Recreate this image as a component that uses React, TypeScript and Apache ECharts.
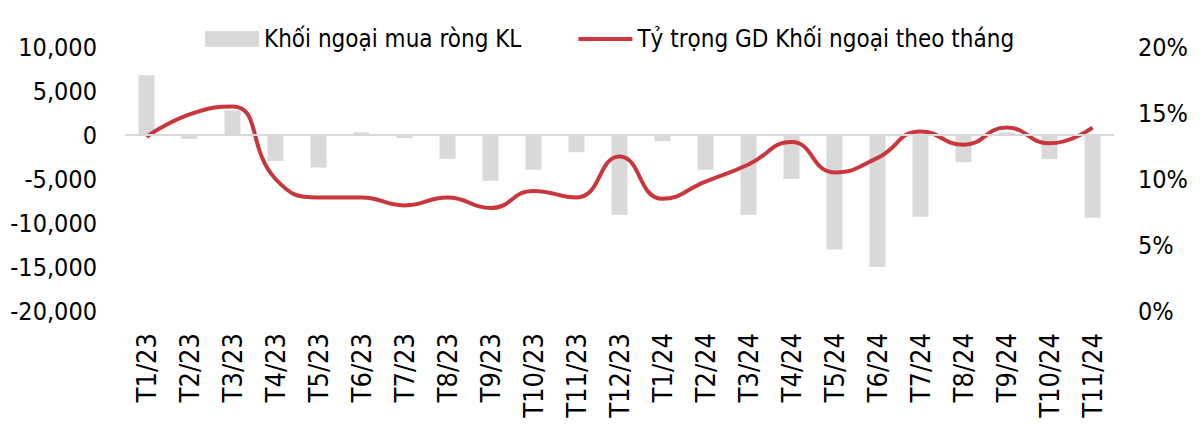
import { useEffect, useRef } from "react";
import * as echarts from "echarts";

const months = [
  "T1/23", "T2/23", "T3/23", "T4/23", "T5/23", "T6/23", "T7/23", "T8/23",
  "T9/23", "T10/23", "T11/23", "T12/23", "T1/24", "T2/24", "T3/24", "T4/24",
  "T5/24", "T6/24", "T7/24", "T8/24", "T9/24", "T10/24", "T11/24",
];

// Khối ngoại mua ròng KL (left axis)
const netBuy = [
  6800, -450, 2800, -2950, -3700, 300, -350, -2700, -5200, -3950, -1950,
  -9050, -700, -3950, -9050, -5000, -13000, -15000, -9300, -3100, 300,
  -2750, -9400,
];

// Tỷ trọng GD Khối ngoại theo tháng, % (right axis)
const share = [
  13.2, 14.9, 15.5, 10.0, 8.6, 8.6, 8.0, 8.6, 7.8, 9.1, 8.6, 11.7, 8.5, 9.8,
  11.1, 12.8, 10.5, 11.6, 13.6, 12.6, 13.9, 12.7, 13.9,
];

const FONT = '"Liberation Sans Narrow", "Arial Narrow", "DejaVu Sans Condensed", sans-serif';
const GRAY = "#d9d9d9";
const RED = "#c9373c";

export default function App() {
  const chartRef = useRef<HTMLDivElement>(null);

  useEffect(() => {
    if (!chartRef.current) return;
    const chart = echarts.init(chartRef.current, undefined, { renderer: "svg" });

    chart.setOption({
      animation: false,
      textStyle: { fontFamily: FONT },
      legend: {
        top: 22,
        left: 200,
        itemWidth: 54,
        itemHeight: 16,
        itemGap: 57,
        textStyle: { fontFamily: FONT, fontSize: 24, color: "#000" },
        data: [
          { name: "Khối ngoại mua ròng KL", icon: "rect" },
          {
            name: "Tỷ trọng GD Khối ngoại theo tháng",
            icon: "path://M0,0H54V4H0Z",
            itemStyle: { color: RED },
          },
        ],
      },
      grid: { left: 125, right: 86, top: 47, height: 264 },
      xAxis: {
        type: "category",
        data: months,
        axisLine: { show: false },
        axisTick: { show: false },
        axisLabel: {
          rotate: 90,
          interval: 0,
          margin: 22,
          fontFamily: FONT,
          fontSize: 27,
          color: "#000",
        },
      },
      yAxis: [
        {
          type: "value",
          min: -20000,
          max: 10000,
          interval: 5000,
          splitLine: { show: false },
          axisLine: { show: false },
          axisTick: { show: false },
          axisLabel: {
            margin: 28,
            fontFamily: FONT,
            fontSize: 25,
            color: "#000",
            formatter: (v: number) => v.toLocaleString("en-US"),
          },
        },
        {
          type: "value",
          min: 0,
          max: 20,
          interval: 5,
          splitLine: { show: false },
          axisLine: { show: false },
          axisTick: { show: false },
          axisLabel: {
            margin: 24,
            fontFamily: FONT,
            fontSize: 25,
            color: "#000",
            formatter: (v: number) => `${v}%`,
          },
        },
      ],
      series: [
        {
          name: "Khối ngoại mua ròng KL",
          type: "bar",
          data: netBuy,
          barWidth: 16,
          itemStyle: { color: GRAY },
          markLine: {
            silent: true,
            symbol: "none",
            label: { show: false },
            lineStyle: { color: GRAY, width: 2, type: "solid" },
            data: [{ yAxis: 0 }],
          },
        },
        {
          name: "Tỷ trọng GD Khối ngoại theo tháng",
          type: "line",
          yAxisIndex: 1,
          data: share,
          smooth: 0.5,
          symbol: "none",
          lineStyle: { color: RED, width: 4 },
          itemStyle: { color: RED },
          z: 3,
        },
      ],
    });

    return () => chart.dispose();
  }, []);

  return (
    <div
      ref={chartRef}
      style={{ position: "fixed", left: 0, top: 0, width: 1200, height: 425, background: "#fff" }}
    />
  );
}
